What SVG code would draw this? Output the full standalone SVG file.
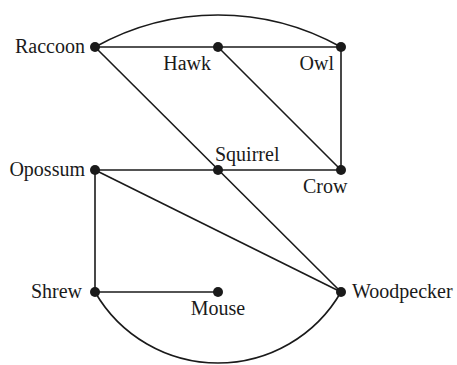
<svg xmlns="http://www.w3.org/2000/svg" width="457" height="365" viewBox="0 0 457 365">
<style>
.e{stroke:#1a1a1a;stroke-width:1.6;fill:none}
.d{fill:#1a1a1a}
text{font-family:"Liberation Serif","Times New Roman",serif;font-size:20px;fill:#1a1a1a}
</style>
<rect width="457" height="365" fill="#fff"/>
<g id="connectors">
<path class="e" d="M95,47 A252,252 0 0 1 341,47"/>
<line class="e" x1="95" y1="47" x2="341" y2="47"/>
<line class="e" x1="95" y1="47" x2="341" y2="292"/>
<line class="e" x1="218" y1="47" x2="341" y2="170"/>
<line class="e" x1="341" y1="47" x2="341" y2="170"/>
<line class="e" x1="95" y1="170" x2="341" y2="170"/>
<line class="e" x1="95" y1="170" x2="341" y2="292"/>
<line class="e" x1="95" y1="170" x2="95" y2="292"/>
<line class="e" x1="95" y1="292" x2="218" y2="292"/>
<path class="e" d="M95,292 A142,142 0 0 0 341,292"/>
</g>
<g id="raccoon"><circle class="d" cx="95" cy="47" r="5"/><text x="85" y="53" text-anchor="end">Raccoon</text></g>
<g id="hawk"><circle class="d" cx="218" cy="47" r="5"/><text x="211" y="70" text-anchor="end">Hawk</text></g>
<g id="owl"><circle class="d" cx="341" cy="47" r="5"/><text x="334" y="70" text-anchor="end">Owl</text></g>
<g id="opossum"><circle class="d" cx="95" cy="170" r="5"/><text x="85" y="176" text-anchor="end">Opossum</text></g>
<g id="squirrel"><circle class="d" cx="218" cy="170" r="5"/><text x="215" y="161">Squirrel</text></g>
<g id="crow"><circle class="d" cx="341" cy="170" r="5"/><text x="303" y="193">Crow</text></g>
<g id="shrew"><circle class="d" cx="95" cy="292" r="5"/><text x="82" y="298" text-anchor="end">Shrew</text></g>
<g id="mouse"><circle class="d" cx="218" cy="292" r="5"/><text x="218" y="315" text-anchor="middle">Mouse</text></g>
<g id="woodpecker"><circle class="d" cx="341" cy="292" r="5"/><text x="352" y="298">Woodpecker</text></g>
</svg>
